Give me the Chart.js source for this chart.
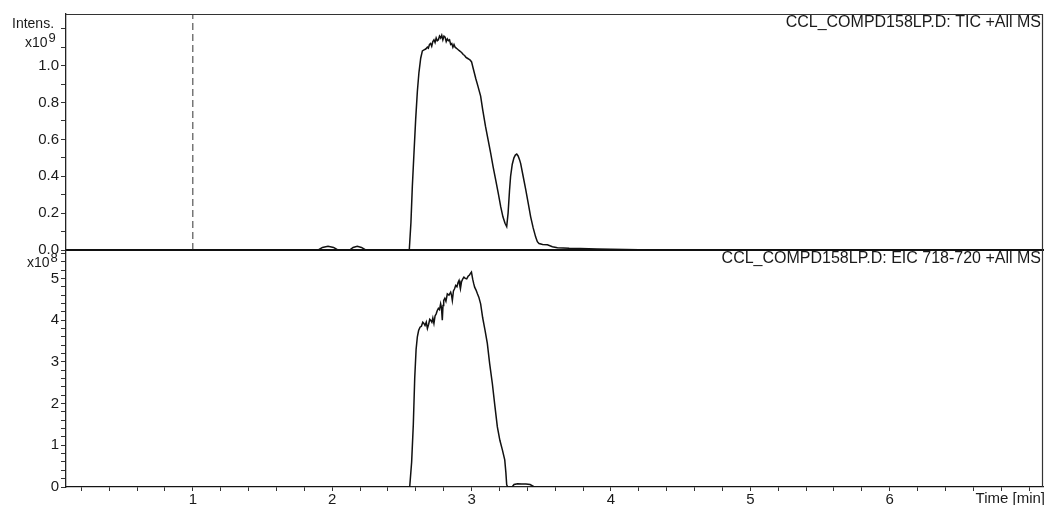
<!DOCTYPE html>
<html>
<head>
<meta charset="utf-8">
<script src="https://cdn.jsdelivr.net/npm/chart.js@4.4.1/dist/chart.umd.min.js"></script>
<style>
  html, body { margin: 0; padding: 0; background: #ffffff; }
  #wrap { position: relative; width: 1047px; height: 505px; background: #ffffff; }
  canvas { position: absolute; left: 0; top: 0; }
</style>
</head>
<body>
<div id="wrap">
  <canvas id="top" width="1047" height="505"></canvas>
  <canvas id="bottom" width="1047" height="505"></canvas>
</div>
<script>
// ---- Data (time in min; TIC in units of 1e9, EIC in units of 1e8) ----
const ticTime = [0.09, 1.90, 1.93, 1.97, 2.01, 2.04, 2.10, 2.125, 2.15, 2.18, 2.21, 2.24, 2.553,
  2.565, 2.575, 2.587, 2.599, 2.611, 2.622, 2.635, 2.647, 2.659, 2.671, 2.683, 2.690, 2.698, 2.706,
  2.714, 2.722, 2.730, 2.738, 2.746, 2.754, 2.762, 2.770, 2.778, 2.786, 2.794, 2.802, 2.810, 2.818,
  2.826, 2.834, 2.842, 2.850, 2.858, 2.866, 2.874, 2.882, 2.890, 2.898, 2.906, 2.914, 2.922, 2.930,
  2.940, 2.950, 2.960, 2.970, 2.980, 2.990, 3.000, 3.010, 3.020, 3.030, 3.045, 3.065, 3.080, 3.100,
  3.118, 3.137, 3.155, 3.173, 3.191, 3.209, 3.225, 3.240, 3.252, 3.262, 3.272, 3.280, 3.292, 3.304,
  3.314, 3.324, 3.334, 3.344, 3.352, 3.370, 3.388, 3.406, 3.424, 3.442, 3.460, 3.472, 3.484, 3.510,
  3.544, 3.580, 3.616, 3.700, 3.780, 3.900, 4.000, 4.200, 4.500, 7.10];
const ticValue = [0, 0, 0.014, 0.02, 0.014, 0, 0, 0, 0.014, 0.02, 0.014, 0, 0,
  0.15, 0.345, 0.53, 0.71, 0.86, 0.96, 1.04, 1.08, 1.085, 1.09, 1.10, 1.095, 1.115, 1.12,
  1.105, 1.13, 1.14, 1.125, 1.15, 1.135, 1.14, 1.16, 1.15, 1.165, 1.14, 1.16, 1.155, 1.13,
  1.145, 1.135, 1.14, 1.115, 1.12, 1.10, 1.115, 1.10, 1.095, 1.09, 1.085, 1.08, 1.075, 1.07,
  1.06, 1.055, 1.045, 1.04, 1.035, 1.03, 1.02, 0.99, 0.96, 0.93, 0.89, 0.835, 0.76, 0.67,
  0.60, 0.525, 0.45, 0.38, 0.31, 0.235, 0.18, 0.145, 0.127, 0.20, 0.32, 0.40, 0.465, 0.50,
  0.515, 0.52, 0.51, 0.49, 0.47, 0.40, 0.33, 0.255, 0.18, 0.12, 0.07, 0.045, 0.035, 0.03,
  0.028, 0.018, 0.012, 0.009, 0.008, 0.006, 0.004, 0.002, 0, 0];

const eicTime = [0.09, 2.556, 2.570, 2.582, 2.592, 2.602, 2.611, 2.620, 2.630, 2.640, 2.650,
  2.658, 2.666, 2.675, 2.683, 2.692, 2.700, 2.706, 2.715, 2.722, 2.730, 2.738, 2.746, 2.754, 2.762,
  2.770, 2.778, 2.784, 2.790, 2.795, 2.800, 2.808, 2.816, 2.826, 2.838, 2.850, 2.856, 2.862, 2.870,
  2.878, 2.886, 2.895, 2.903, 2.910, 2.916, 2.920, 2.928, 2.936, 2.945, 2.955, 2.965, 2.975, 2.985,
  2.992, 2.999, 3.008, 3.015, 3.022, 3.032, 3.042, 3.052, 3.065, 3.080, 3.097, 3.113, 3.130, 3.149,
  3.167, 3.185, 3.203, 3.221, 3.238, 3.246, 3.252, 3.260, 3.290, 3.305, 3.330, 3.360, 3.390, 3.420,
  3.450, 7.10];
const eicValue = [0, 0, 0.6, 1.5, 2.6, 3.3, 3.6, 3.75, 3.83, 3.85, 3.95,
  3.92, 3.87, 3.95, 3.80, 3.90, 4.02, 4.0, 3.95, 4.05, 3.92, 4.10, 4.15, 4.23, 4.28,
  4.25, 4.39, 4.30, 4.0, 4.35, 4.47, 4.52, 4.45, 4.63, 4.60, 4.67, 4.60, 4.47, 4.70,
  4.75, 4.83, 4.80, 4.90, 4.95, 4.82, 4.75, 4.92, 4.98, 5.03, 5.00, 4.99, 5.05, 5.08,
  5.12, 5.15, 4.98, 4.88, 4.79, 4.72, 4.63, 4.55, 4.39, 4.05, 3.75, 3.44, 2.95, 2.48,
  1.95, 1.44, 1.12, 0.89, 0.65, 0.35, 0.05, 0, 0, 0.06, 0.08, 0.07, 0.07, 0.06,
  0, 0];

const markerTime = [1.0];
const xTickLabels = ['1', '2', '3', '4', '5', '6'];
const topTickLabels = ['0.0', '0.2', '0.4', '0.6', '0.8', '1.0'];
const bottomTickLabels = ['0', '1', '2', '3', '4', '5'];
const topTitle = 'CCL_COMPD158LP.D: TIC +All MS';
const bottomTitle = 'CCL_COMPD158LP.D: EIC 718-720 +All MS';
const xAxisTitle = 'Time [min]';
const topExponent = '9';
const bottomExponent = '8';

// ---- Layout / style ----
const X_MIN = 0.09, X_MAX = 7.1;
const TOP_MAX = 1.28, BOTTOM_MAX = 5.68;
const FONT = '"Liberation Sans", Arial, sans-serif';
const INK = '#1a1a1a';

function labelFrom(list, v) {
  const l = list.find(s => Math.abs(parseFloat(s) - v) < 1e-6);
  return l === undefined ? '' : l;
}

const panelPlugin = {
  id: 'panel',
  afterDraw(chart, args, opts) {
    const { ctx, chartArea: a } = chart;
    ctx.save();
    ctx.strokeStyle = '#333';
    ctx.lineWidth = 1.2;
    ctx.beginPath();
    if (opts.topBorder) {
      ctx.moveTo(a.left, a.top + 0.5);
      ctx.lineTo(a.right, a.top + 0.5);
    }
    ctx.moveTo(a.right - 0.5, a.top);
    ctx.lineTo(a.right - 0.5, a.bottom);
    ctx.stroke();

    ctx.fillStyle = INK;
    ctx.font = '16px ' + FONT;
    ctx.textAlign = 'right';
    ctx.textBaseline = 'alphabetic';
    ctx.fillText(opts.title, a.right - 2, a.top + 13);

    ctx.textAlign = 'left';
    if (opts.intens) {
      ctx.font = '14px ' + FONT;
      ctx.fillText('Intens.', 12, 28);
    }
    ctx.font = '14px ' + FONT;
    ctx.fillText('x10', opts.expX, opts.expY);
    const w = ctx.measureText('x10').width;
    ctx.font = '13px ' + FONT;
    ctx.fillText(opts.exponent, opts.expX + w + 1, opts.expY - 5);

    if (opts.xTitle) {
      ctx.font = '15px ' + FONT;
      ctx.textAlign = 'right';
      ctx.textBaseline = 'top';
      ctx.fillText(opts.xTitle, 1045, 491);
    }
    ctx.restore();
  }
};

function yAxis(max, step, labels) {
  return {
    type: 'linear',
    position: 'left',
    min: 0,
    max: max,
    ticks: {
      stepSize: step,
      includeBounds: false,
      autoSkip: false,
      padding: 2,
      color: INK,
      font: { family: FONT, size: 15 },
      callback: (v) => labelFrom(labels, v)
    },
    grid: { display: true, drawOnChartArea: false, drawTicks: true, tickLength: 5, color: '#333', lineWidth: 1 },
    border: { display: true, color: '#222', width: 1.3 },
    afterFit: (s) => { s.width = 66; }
  };
}

new Chart(document.getElementById('top'), {
  type: 'line',
  data: {
    datasets: [
      {
        data: ticTime.map((t, i) => ({ x: t, y: ticValue[i] })),
        borderColor: '#111',
        borderWidth: 1.5,
        pointRadius: 0,
        tension: 0
      },
      {
        data: [{ x: markerTime[0], y: 0 }, { x: markerTime[0], y: TOP_MAX }],
        borderColor: '#333',
        borderWidth: 1,
        borderDash: [7, 4],
        pointRadius: 0
      }
    ]
  },
  options: {
    responsive: false,
    animation: false,
    events: [],
    layout: { padding: { left: 0, right: 4, top: 14, bottom: 255 } },
    plugins: {
      legend: { display: false },
      tooltip: { enabled: false },
      panel: { title: topTitle, intens: true, exponent: topExponent, expX: 25, expY: 47, topBorder: true }
    },
    scales: {
      x: {
        type: 'linear',
        min: X_MIN,
        max: X_MAX,
        ticks: { display: false },
        grid: { display: false, drawTicks: false },
        border: { display: true, color: '#111', width: 2 },
        afterFit: (s) => { s.height = 0; }
      },
      y: yAxis(TOP_MAX, 0.1, topTickLabels)
    }
  },
  plugins: [panelPlugin]
});

new Chart(document.getElementById('bottom'), {
  type: 'line',
  data: {
    datasets: [
      {
        data: eicTime.map((t, i) => ({ x: t, y: eicValue[i] })),
        borderColor: '#111',
        borderWidth: 1.5,
        pointRadius: 0,
        tension: 0
      }
    ]
  },
  options: {
    responsive: false,
    animation: false,
    events: [],
    layout: { padding: { left: 0, right: 4, top: 250, bottom: 0 } },
    plugins: {
      legend: { display: false },
      tooltip: { enabled: false },
      panel: { title: bottomTitle, intens: false, exponent: bottomExponent, expX: 27, expY: 267, topBorder: false, xTitle: xAxisTitle }
    },
    scales: {
      x: {
        type: 'linear',
        min: X_MIN,
        max: X_MAX,
        ticks: {
          stepSize: 0.2,
          includeBounds: false,
          autoSkip: false,
          maxRotation: 0,
          padding: 0,
          color: INK,
          font: { family: FONT, size: 15 },
          callback: (v) => labelFrom(xTickLabels, v)
        },
        grid: { display: true, drawOnChartArea: false, drawTicks: true, tickLength: 4, color: '#333' },
        border: { display: true, color: '#222', width: 1.3 },
        afterFit: (s) => { s.height = 18; }
      },
      y: yAxis(BOTTOM_MAX, 0.2, bottomTickLabels)
    }
  },
  plugins: [panelPlugin]
});
</script>
</body>
</html>
